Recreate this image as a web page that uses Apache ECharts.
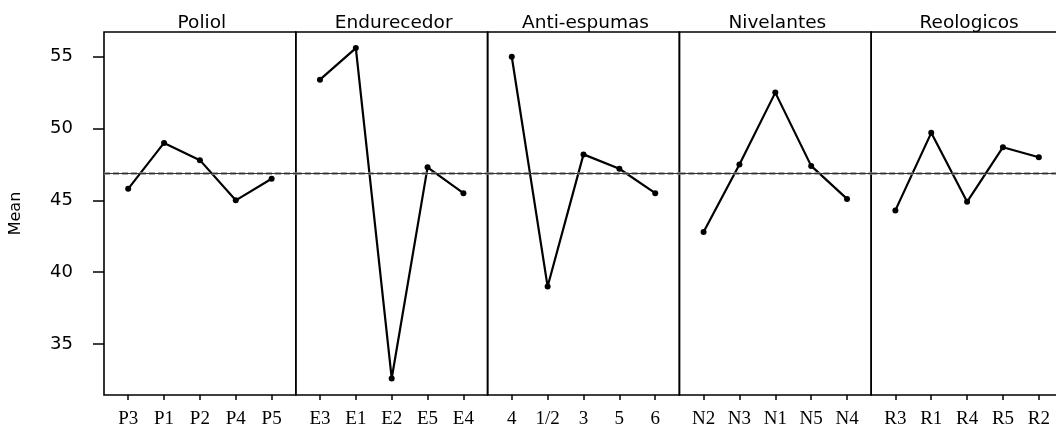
<!DOCTYPE html>
<html>
<head>
<meta charset="utf-8">
<script src="https://cdn.jsdelivr.net/npm/echarts@6/dist/echarts.min.js"></script>
<style>html,body{margin:0;padding:0;background:#fff}#c{width:1056px;height:436px}</style>
</head>
<body>
<div id="c"></div>
<script>
var panelTitles = ['Poliol', 'Endurecedor', 'Anti-espumas', 'Nivelantes', 'Reologicos'];
var polCats = ['P3', 'P1', 'P2', 'P4', 'P5'];
var polVals = [45.8, 49.0, 47.8, 45.0, 46.5];
var endCats = ['E3', 'E1', 'E2', 'E5', 'E4'];
var endVals = [53.4, 55.6, 32.6, 47.3, 45.5];
var antCats = ['4', '1/2', '3', '5', '6'];
var antVals = [55.0, 39.0, 48.2, 47.2, 45.5];
var nivCats = ['N2', 'N3', 'N1', 'N5', 'N4'];
var nivVals = [42.8, 47.5, 52.5, 47.4, 45.1];
var reoCats = ['R3', 'R1', 'R4', 'R5', 'R2'];
var reoVals = [44.3, 49.7, 44.9, 48.7, 48.0];
var yTicks = [35, 40, 45, 50, 55];
var grandMean = 46.9;

var allCats = [polCats, endCats, antCats, nivCats, reoCats];
var allVals = [polVals, endVals, antVals, nivVals, reoVals];

var L0 = 104, PW = 191.8, TOP = 32, H = 363;
var grids = [], xAxes = [], yAxes = [], series = [], titles = [];
for (var i = 0; i < 5; i++) {
  var left = L0 + i * PW;
  grids.push({left: left, top: TOP, width: PW, height: H, show: true,
    outerBoundsMode: 'none',
    borderColor: '#000', borderWidth: 1.6, backgroundColor: 'transparent', containLabel: false});
  (function(cats){
    xAxes.push({type: 'value', gridIndex: i, min: -0.674, max: 4.674,
      axisLine: {show: false, onZero: false}, splitLine: {show: false},
      axisTick: {show: true, length: 5, customValues: [0,1,2,3,4], lineStyle: {color: '#000', width: 1.5}},
      axisLabel: {show: true, customValues: [0,1,2,3,4], margin: 15,
        fontFamily: 'Liberation Serif', fontSize: 19, color: '#000',
        formatter: function(v){ return cats[Math.round(v)]; }}});
  })(allCats[i]);
  yAxes.push({type: 'value', gridIndex: i, min: 31.45, max: 56.72,
    axisLine: {show: false, onZero: false}, splitLine: {show: false},
    axisTick: {show: i === 0, length: 11, customValues: yTicks, lineStyle: {color: '#000', width: 1.5}},
    axisLabel: {show: i === 0, customValues: yTicks, margin: 31,
      fontFamily: 'DejaVu Sans', fontSize: 18, color: '#000'},
    name: i === 0 ? 'Mean' : '', nameLocation: 'middle', nameGap: 80, nameRotate: 90,
    nameTextStyle: {fontFamily: 'DejaVu Sans', fontSize: 16, color: '#000'}});
  var vals = allVals[i];
  series.push({type: 'line', xAxisIndex: i, yAxisIndex: i,
    data: vals.map(function(v, k){ return [k, v]; }),
    symbol: 'circle', symbolSize: 6, itemStyle: {color: '#000'},
    lineStyle: {color: '#000', width: 2.2}, silent: true, animation: false,
    markLine: {silent: true, symbol: 'none', label: {show: false}, animation: false,
      data: [
        {yAxis: grandMean, lineStyle: {color: '#8a8a8a', width: 2.5, type: [6, 3]}},
        {yAxis: grandMean, lineStyle: {color: '#333', width: 1.2, type: 'solid'}}
      ]}});
  titles.push({text: panelTitles[i], left: left + PW / 2 - 3, top: 9, textAlign: 'center',
    textStyle: {fontFamily: 'DejaVu Sans', fontSize: 18.5, fontWeight: 'normal', color: '#000'}});
}

var chart = echarts.init(document.getElementById('c'), null, {renderer: 'canvas'});
chart.setOption({
  animation: false,
  backgroundColor: '#fff',
  title: titles,
  grid: grids,
  xAxis: xAxes,
  yAxis: yAxes,
  series: series
});
</script>
</body>
</html>
